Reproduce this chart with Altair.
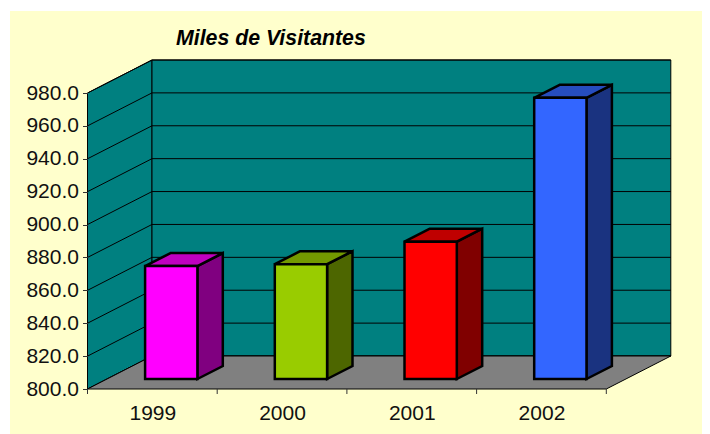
import altair as alt
import pandas as pd

YEARS = [1999, 2000, 2001, 2002]
VALUES = [868.7, 869.8, 883.5, 971.0]
FRONT = ["#FF00FF", "#99CC00", "#FF0000", "#3366FF"]
SIDE = ["#800080", "#4D6600", "#800000", "#1A3380"]
TOP = ["#C000C0", "#739900", "#BF0000", "#264DBF"]
TICKS = [800, 820, 840, 860, 880, 900, 920, 940, 960, 980]

W, H = 692, 423
PX_CAT = 129.7            # pixels per category
PX_VAL = 296 / 180        # pixels per value unit
X0, Y0 = 77.5, 378        # plot-area position of the front-left floor corner
VMIN, VMAX = 800, 980
WALL_DX = 64.5 / PX_CAT   # depth of the chart box
WALL_DY = 33 / PX_VAL
BAR_OFF_X = 57.6 / PX_CAT
BAR_W = 52.3 / PX_CAT
BAR_DX = 25.4 / PX_CAT
BAR_DY = 13 / PX_VAL
BAR_LIFT = 10 / PX_VAL
N = len(YEARS)

xs = alt.Scale(domain=[-X0 / PX_CAT, (W - X0) / PX_CAT], nice=False, zero=False)
ys = alt.Scale(domain=[VMIN - (H - Y0) / PX_VAL, VMIN + Y0 / PX_VAL], nice=False, zero=False)

x_axis = alt.Axis(
    values=[i + 0.5 for i in range(N)],
    labelExpr=f"{YEARS}[floor(datum.value)]",
    title=None, domain=False, grid=False, ticks=False,
    offset=-(H - Y0), labelPadding=13, zindex=1,
    labelFont="Liberation Sans", labelFontSize=21, labelColor="#111111")
y_axis = alt.Axis(
    values=TICKS, format=".1f", title=None, domain=False, grid=False,
    offset=-X0, tickSize=5, tickColor="#333333", tickWidth=1, labelPadding=4, zindex=1,
    labelFont="Liberation Sans", labelFontSize=21, labelColor="#111111")


def X(f="x"):
    return alt.X(f"{f}:Q", scale=xs, title=None)


def Y(f="y"):
    return alt.Y(f"{f}:Q", scale=ys, title=None)


fill = alt.Color("c:N", scale=None)

# walls (this first layer carries the two axes for the whole chart)
left_wall = alt.Chart(pd.DataFrame([
    {"x": 0, "y": VMIN, "y2": VMAX},
    {"x": WALL_DX, "y": VMIN + WALL_DY, "y2": VMAX + WALL_DY},
])).mark_area(color="#008080", stroke="black", strokeWidth=1).encode(
    x=alt.X("x:Q", scale=xs, axis=x_axis),
    y=alt.Y("y:Q", scale=ys, axis=y_axis),
    y2="y2:Q")

back_wall = alt.Chart(pd.DataFrame([
    {"x": WALL_DX, "x2": N + WALL_DX, "y": VMIN + WALL_DY, "y2": VMAX + WALL_DY},
])).mark_rect(color="#008080", stroke="black", strokeWidth=1).encode(
    x=X(), x2="x2:Q", y=Y(), y2="y2:Q")

grid_rows = []
for t in TICKS:
    grid_rows += [
        {"t": t, "x": 0, "y": t},
        {"t": t, "x": WALL_DX, "y": t + WALL_DY},
        {"t": t, "x": N + WALL_DX, "y": t + WALL_DY},
    ]
grid = alt.Chart(pd.DataFrame(grid_rows)).mark_line(color="black", strokeWidth=1).encode(
    x=X(), y=Y(), detail="t:N", order="x:Q")

floor = alt.Chart(pd.DataFrame([
    {"y": VMIN, "x": 0, "x2": N},
    {"y": VMIN + WALL_DY, "x": WALL_DX, "x2": N + WALL_DX},
])).mark_area(color="#808080", stroke="black", strokeWidth=1, orient="horizontal").encode(
    y=Y(), x=X(), x2="x2:Q")

cat_ticks = alt.Chart(pd.DataFrame({
    "x": list(range(N + 1)), "y": [VMIN] * (N + 1), "y2": [VMIN - 5 / PX_VAL] * (N + 1),
})).mark_rule(color="#333333", strokeWidth=1).encode(x=X(), y=Y(), y2="y2:Q")

# bars
side_rows, top_rows, front_rows = [], [], []
for i, (yr, v) in enumerate(zip(YEARS, VALUES)):
    x0 = i + BAR_OFF_X
    x1 = x0 + BAR_W
    lo = VMIN + BAR_LIFT
    hi = v + BAR_LIFT
    side_rows += [
        {"yr": yr, "c": SIDE[i], "x": x1, "y": lo, "y2": hi},
        {"yr": yr, "c": SIDE[i], "x": x1 + BAR_DX, "y": lo + BAR_DY, "y2": hi + BAR_DY},
    ]
    top_rows += [
        {"yr": yr, "c": TOP[i], "y": hi, "x": x0, "x2": x1},
        {"yr": yr, "c": TOP[i], "y": hi + BAR_DY, "x": x0 + BAR_DX, "x2": x1 + BAR_DX},
    ]
    front_rows.append({"yr": yr, "c": FRONT[i], "x": x0, "x2": x1, "y": lo, "y2": hi})

BAR_STROKE = 2.5
sides = alt.Chart(pd.DataFrame(side_rows)).mark_area(stroke="black", strokeWidth=BAR_STROKE).encode(
    x=X(), y=Y(), y2="y2:Q", color=fill)
tops = alt.Chart(pd.DataFrame(top_rows)).mark_area(
    stroke="black", strokeWidth=BAR_STROKE, orient="horizontal").encode(
    y=Y(), x=X(), x2="x2:Q", color=fill)
fronts = alt.Chart(pd.DataFrame(front_rows)).mark_rect(stroke="black", strokeWidth=BAR_STROKE).encode(
    x=X(), x2="x2:Q", y=Y(), y2="y2:Q", color=fill)

chart = alt.layer(
    left_wall, back_wall, grid, floor, cat_ticks, sides, tops, fronts
).properties(
    width=W, height=H,
    autosize=alt.AutoSizeParams(type="none"),
    padding={"left": 2, "top": 3, "right": 0, "bottom": 0},
    background="white",
    title=alt.TitleParams(
        "Miles de Visitantes", anchor="start", frame="group", offset=0,
        dx=166, dy=38.5, font="Liberation Sans", fontSize=21.3,
        fontStyle="italic", fontWeight="bold", color="black"),
).configure_view(fill="#FFFFCC", stroke=None)

chart.save("out.html", embed_options={"renderer": "svg", "actions": False})
